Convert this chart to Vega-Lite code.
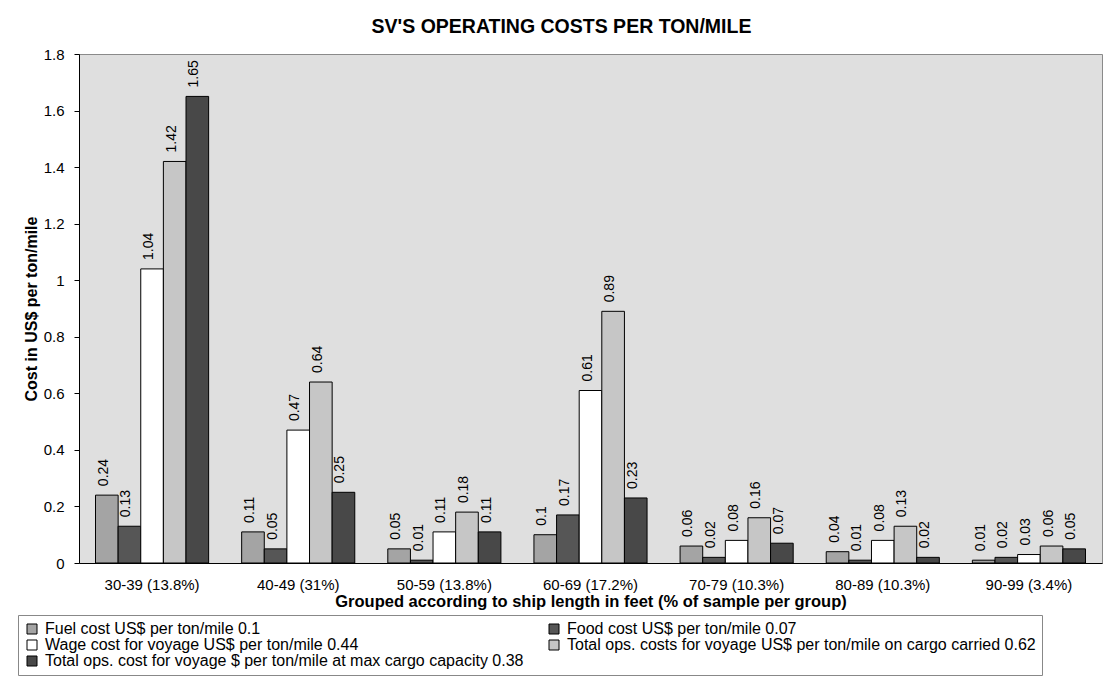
{
  "$schema": "https://vega.github.io/schema/vega-lite/v6.json",
  "autosize": {"type": "none"},
  "width": 1023,
  "height": 509,
  "padding": {"left": 79, "top": 54, "right": 3, "bottom": 114},
  "background": "white",
  "config": {
    "font": "Liberation Sans",
    "view": {"fill": "#dfdfdf", "stroke": "#8a8a8a", "strokeWidth": 1}
  },
  "title": {
    "text": "SV'S OPERATING COSTS PER TON/MILE",
    "anchor": "middle",
    "dx": -29,
    "offset": 10,
    "fontSize": 19.5,
    "fontWeight": "bold",
    "font": "Liberation Sans",
    "color": "black"
  },
  "data": {
    "values": [
      {"group": "30-39 (13.8%)", "series": "Fuel cost  US$ per ton/mile 0.1", "value": 0.24},
      {"group": "30-39 (13.8%)", "series": "Food cost US$ per ton/mile 0.07", "value": 0.13},
      {"group": "30-39 (13.8%)", "series": "Wage cost for voyage  US$ per ton/mile 0.44", "value": 1.04},
      {"group": "30-39 (13.8%)", "series": "Total ops. costs for voyage US$ per ton/mile on cargo carried 0.62", "value": 1.42},
      {"group": "30-39 (13.8%)", "series": "Total ops. cost for voyage $ per ton/mile at max cargo capacity 0.38", "value": 1.65},
      {"group": "40-49 (31%)", "series": "Fuel cost  US$ per ton/mile 0.1", "value": 0.11},
      {"group": "40-49 (31%)", "series": "Food cost US$ per ton/mile 0.07", "value": 0.05},
      {"group": "40-49 (31%)", "series": "Wage cost for voyage  US$ per ton/mile 0.44", "value": 0.47},
      {"group": "40-49 (31%)", "series": "Total ops. costs for voyage US$ per ton/mile on cargo carried 0.62", "value": 0.64},
      {"group": "40-49 (31%)", "series": "Total ops. cost for voyage $ per ton/mile at max cargo capacity 0.38", "value": 0.25},
      {"group": "50-59 (13.8%)", "series": "Fuel cost  US$ per ton/mile 0.1", "value": 0.05},
      {"group": "50-59 (13.8%)", "series": "Food cost US$ per ton/mile 0.07", "value": 0.01},
      {"group": "50-59 (13.8%)", "series": "Wage cost for voyage  US$ per ton/mile 0.44", "value": 0.11},
      {"group": "50-59 (13.8%)", "series": "Total ops. costs for voyage US$ per ton/mile on cargo carried 0.62", "value": 0.18},
      {"group": "50-59 (13.8%)", "series": "Total ops. cost for voyage $ per ton/mile at max cargo capacity 0.38", "value": 0.11},
      {"group": "60-69 (17.2%)", "series": "Fuel cost  US$ per ton/mile 0.1", "value": 0.1},
      {"group": "60-69 (17.2%)", "series": "Food cost US$ per ton/mile 0.07", "value": 0.17},
      {"group": "60-69 (17.2%)", "series": "Wage cost for voyage  US$ per ton/mile 0.44", "value": 0.61},
      {"group": "60-69 (17.2%)", "series": "Total ops. costs for voyage US$ per ton/mile on cargo carried 0.62", "value": 0.89},
      {"group": "60-69 (17.2%)", "series": "Total ops. cost for voyage $ per ton/mile at max cargo capacity 0.38", "value": 0.23},
      {"group": "70-79 (10.3%)", "series": "Fuel cost  US$ per ton/mile 0.1", "value": 0.06},
      {"group": "70-79 (10.3%)", "series": "Food cost US$ per ton/mile 0.07", "value": 0.02},
      {"group": "70-79 (10.3%)", "series": "Wage cost for voyage  US$ per ton/mile 0.44", "value": 0.08},
      {"group": "70-79 (10.3%)", "series": "Total ops. costs for voyage US$ per ton/mile on cargo carried 0.62", "value": 0.16},
      {"group": "70-79 (10.3%)", "series": "Total ops. cost for voyage $ per ton/mile at max cargo capacity 0.38", "value": 0.07},
      {"group": "80-89 (10.3%)", "series": "Fuel cost  US$ per ton/mile 0.1", "value": 0.04},
      {"group": "80-89 (10.3%)", "series": "Food cost US$ per ton/mile 0.07", "value": 0.01},
      {"group": "80-89 (10.3%)", "series": "Wage cost for voyage  US$ per ton/mile 0.44", "value": 0.08},
      {"group": "80-89 (10.3%)", "series": "Total ops. costs for voyage US$ per ton/mile on cargo carried 0.62", "value": 0.13},
      {"group": "80-89 (10.3%)", "series": "Total ops. cost for voyage $ per ton/mile at max cargo capacity 0.38", "value": 0.02},
      {"group": "90-99 (3.4%)", "series": "Fuel cost  US$ per ton/mile 0.1", "value": 0.01},
      {"group": "90-99 (3.4%)", "series": "Food cost US$ per ton/mile 0.07", "value": 0.02},
      {"group": "90-99 (3.4%)", "series": "Wage cost for voyage  US$ per ton/mile 0.44", "value": 0.03},
      {"group": "90-99 (3.4%)", "series": "Total ops. costs for voyage US$ per ton/mile on cargo carried 0.62", "value": 0.06},
      {"group": "90-99 (3.4%)", "series": "Total ops. cost for voyage $ per ton/mile at max cargo capacity 0.38", "value": 0.05}
    ]
  },
  "encoding": {
    "x": {
      "field": "group",
      "type": "nominal",
      "sort": null,
      "scale": {"paddingInner": 0.226, "paddingOuter": 0.113},
      "axis": {
        "title": "Grouped according to ship length in feet (% of sample per group)",
        "labelAngle": 0,
        "ticks": false,
        "domainColor": "black",
        "labelFontSize": 15,
        "labelColor": "black",
        "labelPadding": 14,
        "titleFontSize": 16.5,
        "titleFontWeight": "bold",
        "titleColor": "black",
        "titlePadding": 1
      }
    },
    "xOffset": {
      "field": "series",
      "type": "nominal",
      "sort": [
        "Fuel cost  US$ per ton/mile 0.1",
        "Food cost US$ per ton/mile 0.07",
        "Wage cost for voyage  US$ per ton/mile 0.44",
        "Total ops. costs for voyage US$ per ton/mile on cargo carried 0.62",
        "Total ops. cost for voyage $ per ton/mile at max cargo capacity 0.38"
      ],
      "scale": {"paddingInner": 0, "paddingOuter": 0}
    },
    "y": {
      "field": "value",
      "type": "quantitative",
      "scale": {"domain": [0, 1.8], "nice": false},
      "axis": {
        "title": "Cost in US$ per ton/mile",
        "values": [0, 0.2, 0.4, 0.6, 0.8, 1, 1.2, 1.4, 1.6, 1.8],
        "format": "~g",
        "grid": false,
        "domainColor": "black",
        "tickColor": "black",
        "tickSize": 5,
        "labelFontSize": 15,
        "labelColor": "black",
        "labelPadding": 10,
        "titleFontSize": 16,
        "titleFontWeight": "bold",
        "titleColor": "black",
        "titlePadding": 4
      }
    }
  },
  "layer": [
    {
      "mark": {"type": "bar", "stroke": "black", "strokeWidth": 1},
      "encoding": {
        "color": {
          "field": "series",
          "type": "nominal",
          "scale": {
            "domain": [
              "Fuel cost  US$ per ton/mile 0.1",
              "Food cost US$ per ton/mile 0.07",
              "Wage cost for voyage  US$ per ton/mile 0.44",
              "Total ops. costs for voyage US$ per ton/mile on cargo carried 0.62",
              "Total ops. cost for voyage $ per ton/mile at max cargo capacity 0.38"
            ],
            "range": ["#a4a4a4", "#565656", "#ffffff", "#c6c6c6", "#484848"]
          },
          "legend": {
            "title": null,
            "orient": "none",
            "legendX": -61,
            "legendY": 561,
            "direction": "horizontal",
            "columns": 2,
            "fillColor": "white",
            "strokeColor": "#888888",
            "padding": 6,
            "labelFontSize": 16,
            "labelColor": "black",
            "labelLimit": 1000,
            "labelOffset": 5,
            "symbolType": "square",
            "symbolSize": 100,
            "symbolStrokeColor": "black",
            "symbolStrokeWidth": 1,
            "symbolOpacity": 1,
            "rowPadding": -3,
            "columnPadding": 22
          }
        }
      }
    },
    {
      "mark": {
        "type": "text",
        "angle": 270,
        "align": "left",
        "baseline": "middle",
        "dx": 9,
        "dy": -3,
        "fontSize": 14,
        "color": "black"
      },
      "encoding": {
        "text": {"field": "value", "type": "quantitative", "format": "~g"}
      }
    }
  ]
}
